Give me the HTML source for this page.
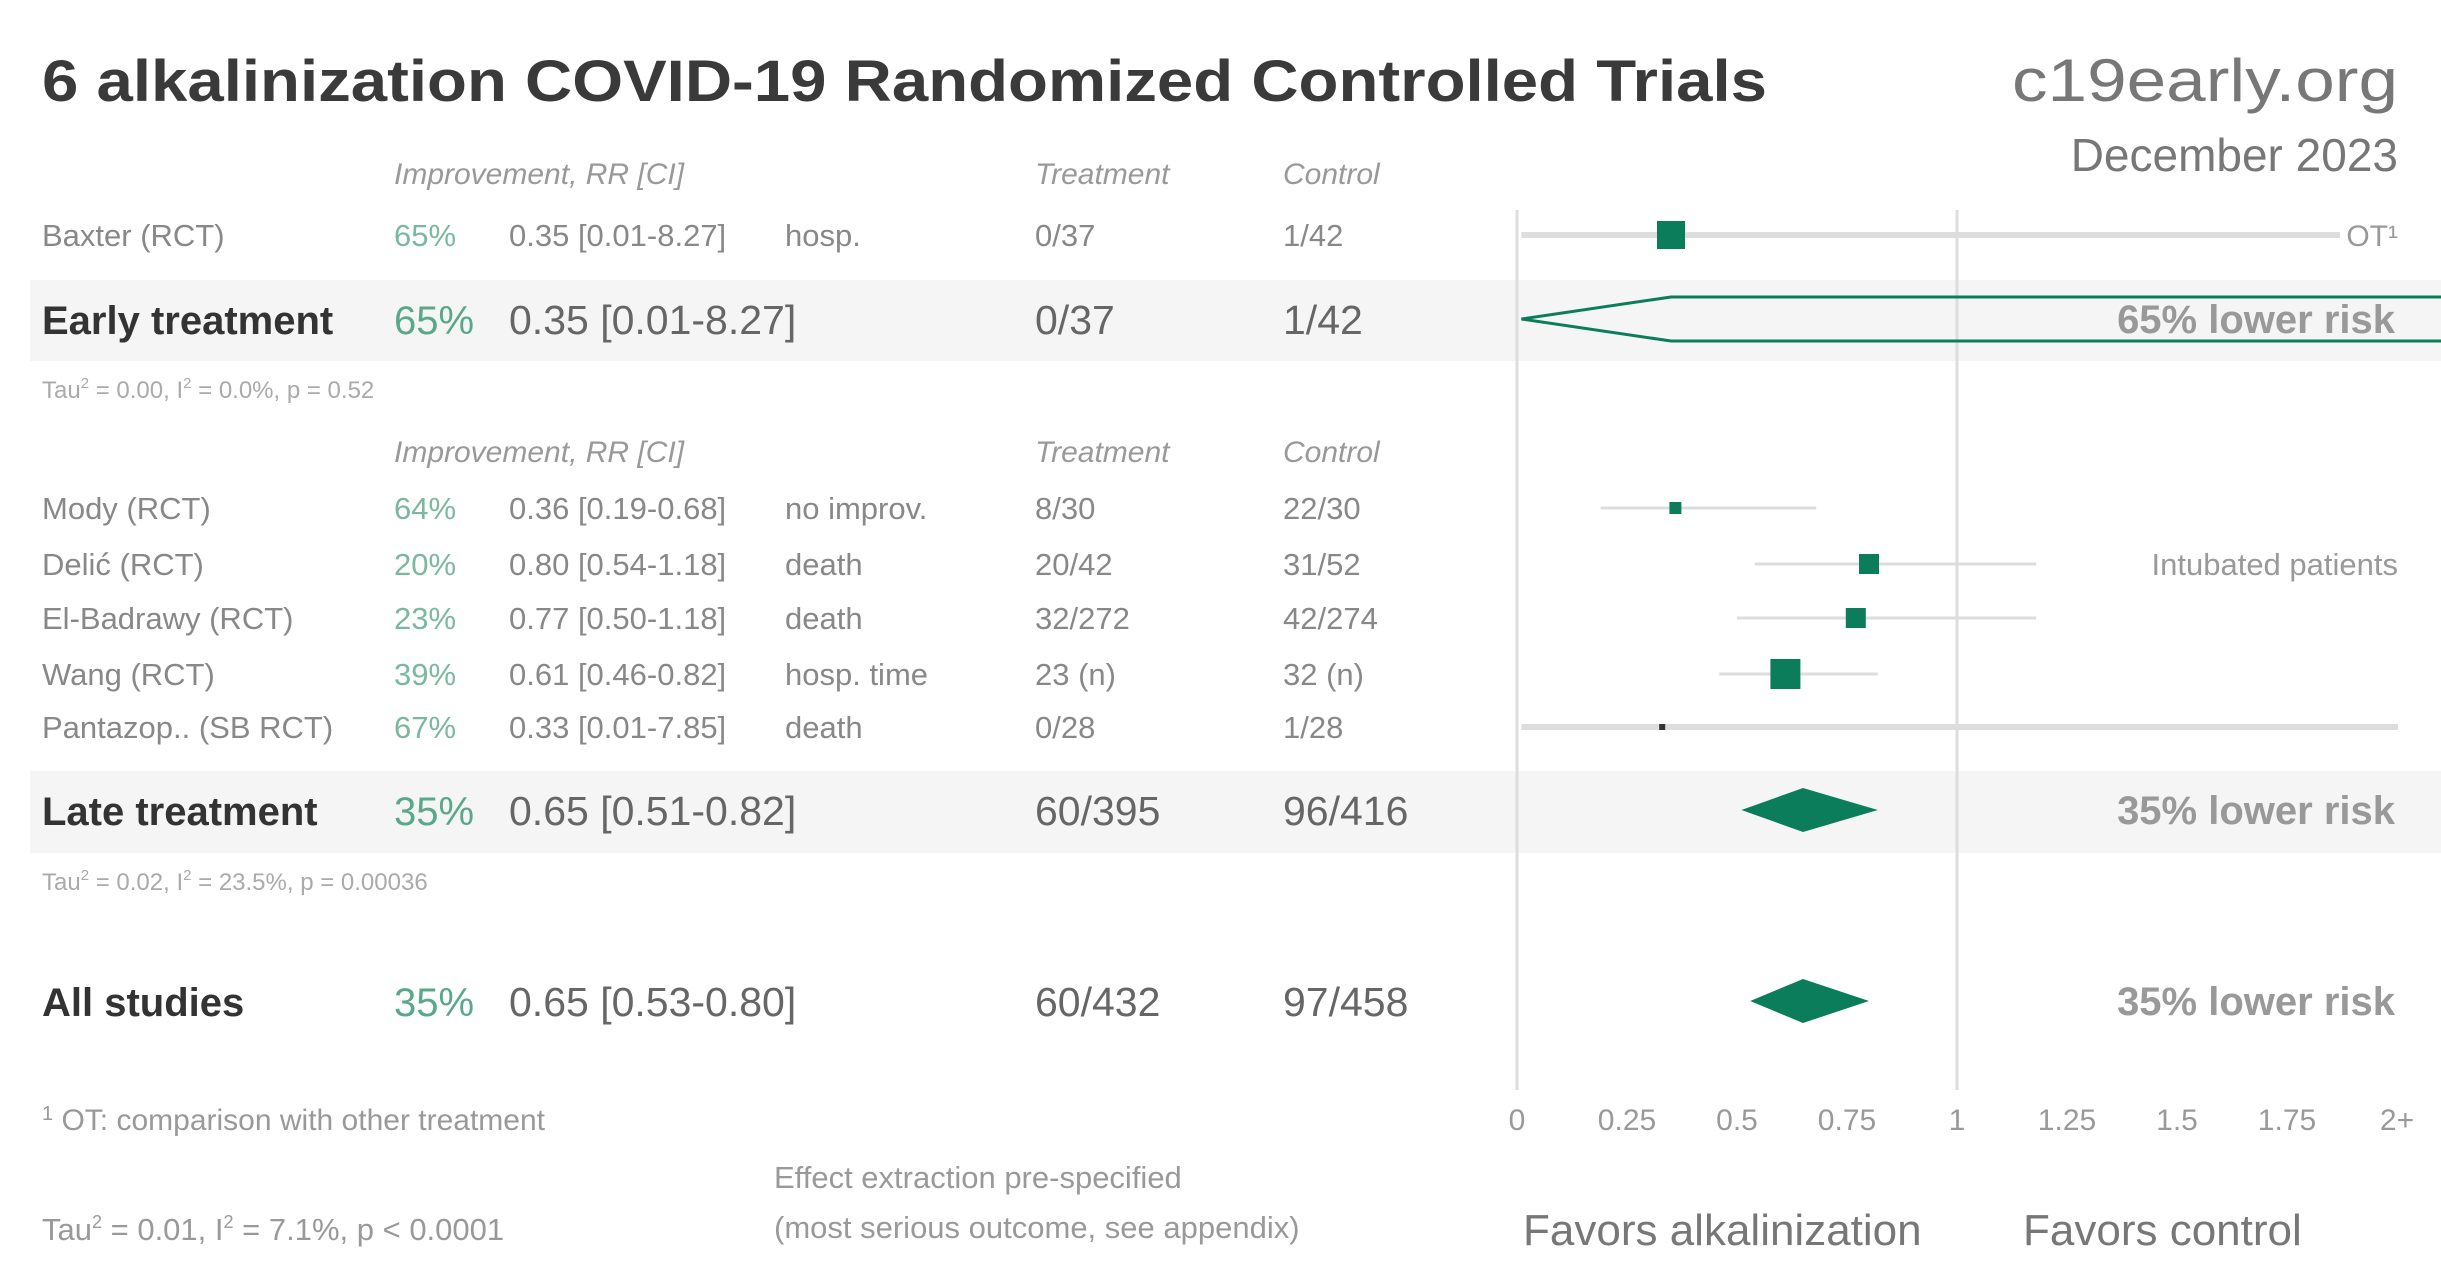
<!DOCTYPE html>
<html><head><meta charset="utf-8"><style>
html,body{margin:0;padding:0;background:#fff;}
svg{display:block;font-family:"Liberation Sans",sans-serif;}
</style></head><body>
<svg id="chart" width="2441" height="1282" viewBox="0 0 2441 1282" xmlns="http://www.w3.org/2000/svg">
<rect x="0" y="0" width="2441" height="1282" fill="#fff"/>
<rect x="30" y="280" width="2411" height="81" fill="#f5f5f5"/>
<rect x="30" y="771" width="2411" height="82" fill="#f5f5f5"/>
<text x="42" y="101" font-size="58" font-weight="bold" fill="#3a3a3a" textLength="1725" lengthAdjust="spacingAndGlyphs">6 alkalinization COVID-19 Randomized Controlled Trials</text>
<text x="2398" y="101" font-size="60" fill="#777" text-anchor="end" textLength="386" lengthAdjust="spacingAndGlyphs">c19early.org</text>
<text x="2398" y="171" font-size="46" fill="#777" text-anchor="end">December 2023</text>
<g id="plot"></g>
<g id="table"></g>
</svg>
<script>
const studies = ["Baxter (RCT)","Mody (RCT)","Delić (RCT)","El-Badrawy (RCT)","Wang (RCT)","Pantazop.. (SB RCT)"];
const improvement = ["65%","64%","20%","23%","39%","67%"];
const rr = [0.35,0.36,0.80,0.77,0.61,0.33];
const ciLow = [0.01,0.19,0.54,0.50,0.46,0.01];
const ciHigh = [8.27,0.68,1.18,1.18,0.82,7.85];
const outcomes = ["hosp.","no improv.","death","death","hosp. time","death"];
const treatmentCounts = ["0/37","8/30","20/42","32/272","23 (n)","0/28"];
const controlCounts = ["1/42","22/30","31/52","42/274","32 (n)","1/28"];
const weights = [28,12,20,20,30,6];
const groupNames = ["Early treatment","Late treatment","All studies"];
const groupImprovement = ["65%","35%","35%"];
const groupRR = [0.35,0.65,0.65];
const groupLow = [0.01,0.51,0.53];
const groupHigh = [8.27,0.82,0.80];
const groupTreat = ["0/37","60/395","60/432"];
const groupCtrl = ["1/42","96/416","97/458"];
const groupRisk = ["65% lower risk","35% lower risk","35% lower risk"];
const tickValues = [0,0.25,0.5,0.75,1,1.25,1.5,1.75,2];
const tickLabels = ["0","0.25","0.5","0.75","1","1.25","1.5","1.75","2+"];

const NS="http://www.w3.org/2000/svg";
const x = v => 1517 + Math.min(v,2.0)*440;
const rowY = [235,508,564,618,674,727];
const groupY = [319,810,1001];
const plot=document.getElementById('plot'), table=document.getElementById('table');
function el(tag,attrs,parent,txt){const e=document.createElementNS(NS,tag);for(const k in attrs)e.setAttribute(k,attrs[k]);if(txt!==undefined)e.textContent=txt;parent.appendChild(e);return e;}

let a=el('line',{x1:x(0),x2:x(0),y1:210,y2:1090,stroke:'#ddd','stroke-width':3},plot);


a=el('line',{x1:x(1),x2:x(1),y1:210,y2:1090,stroke:'#ddd','stroke-width':3},plot);


tickValues.forEach((v,i)=>{
  const t=el('text',{x:x(v),y:1130,'font-size':30,fill:'#999','text-anchor':'middle'},plot,tickLabels[i]);
  
  
});

[174,452].forEach(y=>{
  let h=el('text',{x:394,y:y+10,'font-size':30,'font-style':'italic',fill:'#999'},table,'Improvement, RR [CI]');
  
  
  h=el('text',{x:1035,y:y+10,'font-size':30,'font-style':'italic',fill:'#999'},table,'Treatment');
  
  
  h=el('text',{x:1283,y:y+10,'font-size':30,'font-style':'italic',fill:'#999'},table,'Control');
  
  
});

studies.forEach((s,i)=>{
  const y=rowY[i], by=y+11;
  let t=el('text',{x:42,y:by,'font-size':31,fill:'#888'},table,s);
  
  
  t=el('text',{x:394,y:by,'font-size':31,fill:'#7bb8a0'},table,improvement[i]);
  
  
  t=el('text',{x:509,y:by,'font-size':31,fill:'#888'},table,rr[i].toFixed(2)+' ['+ciLow[i].toFixed(2)+'-'+ciHigh[i].toFixed(2)+']');
  
  
  t=el('text',{x:785,y:by,'font-size':31,fill:'#888'},table,outcomes[i]);
  
  
  t=el('text',{x:1035,y:by,'font-size':31,fill:'#888'},table,treatmentCounts[i]);
  
  
  t=el('text',{x:1283,y:by,'font-size':31,fill:'#888'},table,controlCounts[i]);
  
  
  const clipped = ciHigh[i]>2;
  const xEnd = clipped ? (i==0?2340:2398) : x(ciHigh[i]);
  const l=el('line',{x1:x(ciLow[i]),x2:xEnd,y1:y,y2:y,stroke:'#ddd','stroke-width':clipped?6:3},plot);
  
  
  const w=weights[i];
  const r=el('rect',{x:x(rr[i])-w/2,y:y-w/2,width:w,height:w,fill:i==5?'#333':'#0b7d5b'},plot);
  
  
});
let ot=el('text',{x:2398,y:246,'font-size':30,fill:'#999','text-anchor':'end'},plot,'OT¹');


let ib=el('text',{x:2398,y:575,'font-size':31,fill:'#999','text-anchor':'end'},plot,'Intubated patients');



groupNames.forEach((g,i)=>{
  const y=groupY[i], by=y+15;
  let t=el('text',{x:42,y:by,'font-size':40,'font-weight':'bold',fill:'#333'},table,g);
  
  
  t=el('text',{x:394,y:by,'font-size':40,fill:'#5aa88a'},table,groupImprovement[i]);
  
  
  t=el('text',{x:509,y:by,'font-size':41,fill:'#666'},table,groupRR[i].toFixed(2)+' ['+groupLow[i].toFixed(2)+'-'+groupHigh[i].toFixed(2)+']');
  
  
  t=el('text',{x:1035,y:by,'font-size':41,fill:'#666'},table,groupTreat[i]);
  
  
  t=el('text',{x:1283,y:by,'font-size':41,fill:'#666'},table,groupCtrl[i]);
  
  
  const h = 22;
  let d;
  if(groupHigh[i]>2){
    d=el('polyline',{points:`2441,${y-h} ${x(groupRR[i])},${y-h} ${x(groupLow[i])},${y} ${x(groupRR[i])},${y+h} 2441,${y+h}`,fill:'none',stroke:'#0b7d5b','stroke-width':3},plot);
  } else {
    d=el('polygon',{points:`${x(groupLow[i])},${y} ${x(groupRR[i])},${y-h} ${x(groupHigh[i])},${y} ${x(groupRR[i])},${y+h}`,fill:'#0b7d5b'},plot);
  }
  
  
  t=el('text',{x:2395,y:y+14,'font-size':40,'font-weight':'bold',fill:'#999','text-anchor':'end'},plot,groupRisk[i]);
  
  
});

function small(txt,xx,yy,fs,name,fill){const t=el('text',{x:xx,y:yy,'font-size':fs,fill:fill||'#aaa'},table);t.innerHTML=txt;return t;}
small('Tau<tspan font-size="15" dy="-10">2</tspan><tspan dy="10"> = 0.00, I</tspan><tspan font-size="15" dy="-10">2</tspan><tspan dy="10"> = 0.0%, p = 0.52</tspan>',42,398,24,'early-heterogeneity');
small('Tau<tspan font-size="15" dy="-10">2</tspan><tspan dy="10"> = 0.02, I</tspan><tspan font-size="15" dy="-10">2</tspan><tspan dy="10"> = 23.5%, p = 0.00036</tspan>',42,890,24,'late-heterogeneity');
small('<tspan font-size="20" dy="-10">1</tspan><tspan dy="10"> OT: comparison with other treatment</tspan>',42,1130,30,'footnote','#999');
small('Tau<tspan font-size="18" dy="-12">2</tspan><tspan dy="12"> = 0.01, I</tspan><tspan font-size="18" dy="-12">2</tspan><tspan dy="12"> = 7.1%, p &lt; 0.0001</tspan>',42,1240,31,'overall-heterogeneity','#999');
small('Effect extraction pre-specified',774,1188,31,'extraction-note','#999');
small('(most serious outcome, see appendix)',774,1238,31,'extraction-note-detail','#999');
let f=el('text',{x:1523,y:1245,'font-size':44,fill:'#777'},plot,'Favors alkalinization');


f=el('text',{x:2023,y:1245,'font-size':44,fill:'#777'},plot,'Favors control');


</script>
</body></html>
